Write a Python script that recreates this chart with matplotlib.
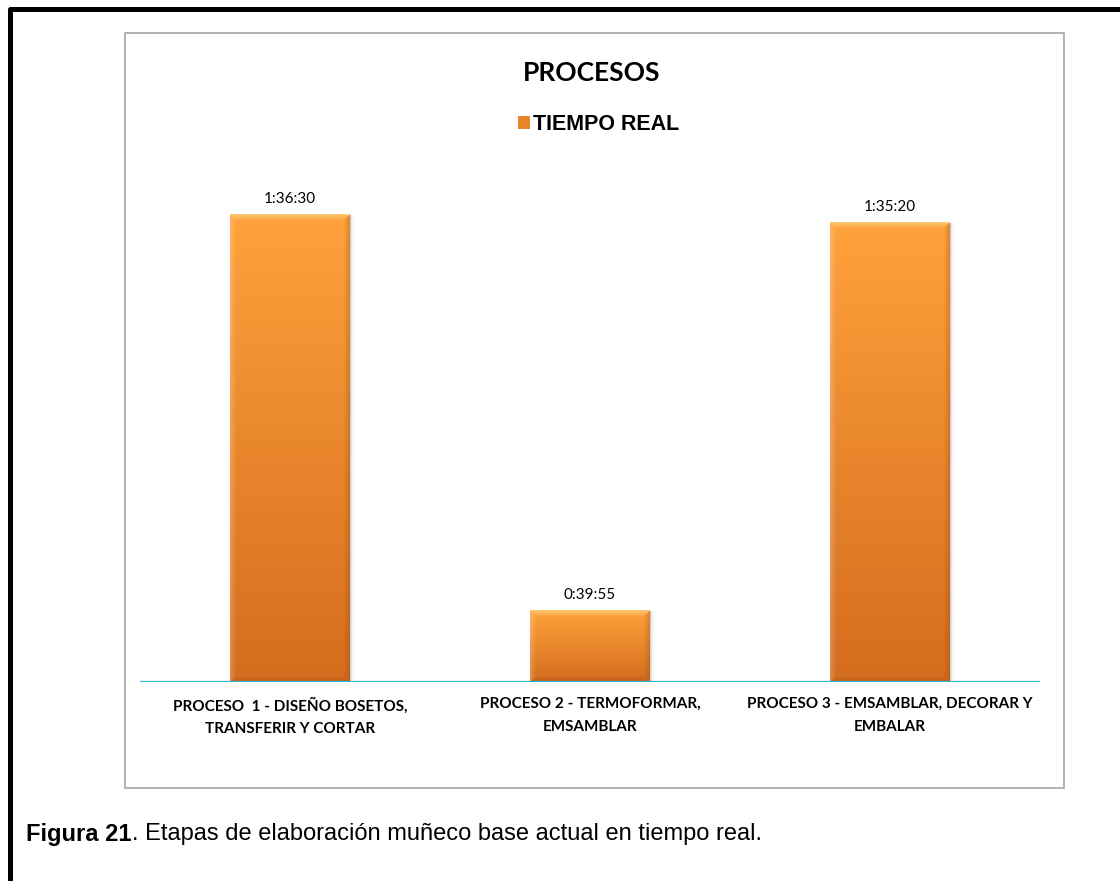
import numpy as np
import matplotlib
matplotlib.use("Agg")
import matplotlib.pyplot as plt
from matplotlib.patches import Rectangle
from matplotlib.lines import Line2D

# ---- data -------------------------------------------------------------
categorias = [
    "PROCESO  1 - DISEÑO BOSETOS,\nTRANSFERIR Y CORTAR",
    "PROCESO 2 - TERMOFORMAR,\nEMSAMBLAR",
    "PROCESO 3 - EMSAMBLAR, DECORAR Y\nEMBALAR",
]
tiempo_real_seg = [5790, 2395, 5720]   # 1:36:30, 0:39:55, 1:35:20
serie_nombre = "TIEMPO REAL"
titulo = "PROCESOS"


def hms(seg):
    h, r = divmod(int(seg), 3600)
    m, s = divmod(r, 60)
    return f"{h}:{m:02d}:{s:02d}"


# ---- figure -----------------------------------------------------------
W, H = 1120, 881
fig = plt.figure(figsize=(W / 100, H / 100), dpi=100)
fig.patch.set_facecolor("white")


def fx(x):
    return x / W


def fy(y):
    return 1 - y / H


# outer page frame (left and top edges)
fig.add_artist(Line2D([fx(10), fx(10), fx(1125)], [fy(890), fy(9), fy(9)],
                      color="black", lw=3.6, solid_joinstyle="round",
                      solid_capstyle="butt", transform=fig.transFigure))

# chart area border
fig.add_artist(Rectangle((fx(125), fy(788)), fx(1064) - fx(125), fy(33) - fy(788),
                         transform=fig.transFigure, fill=False,
                         edgecolor="#A6A6A6", lw=1.2))

# plot area
ax_l, ax_r, ax_t, ax_b = 140, 1040, 150, 682
ax = fig.add_axes([fx(ax_l), fy(ax_b), (ax_r - ax_l) / W, (ax_b - ax_t) / H])
ax.set_facecolor("none")
Y_MIN, Y_MAX = 1780, 6340
ax.set_xlim(-0.5, 2.5)
ax.set_ylim(Y_MIN, Y_MAX)
ax.set_autoscale_on(False)
for s in ax.spines.values():
    s.set_visible(False)
ax.set_yticks([])

x = np.arange(len(categorias))
ancho = 0.4
bars = ax.bar(x, np.array(tiempo_real_seg) - Y_MIN, bottom=Y_MIN, width=ancho,
              color="#E9862B", edgecolor="none", zorder=2, label=serie_nombre)

# bevelled gradient fill for each bar
top_c = np.array([255, 162, 60]) / 255
bot_c = np.array([212, 108, 30]) / 255
px_per_y = (ax_b - ax_t) / (Y_MAX - Y_MIN)
for xi, v in zip(x, tiempo_real_seg):
    h = max(int(round((v - Y_MIN) * px_per_y)), 2)
    w = 120
    t = np.linspace(0, 1, h)[:, None, None]
    img = top_c * (1 - t) + bot_c * t
    img = np.broadcast_to(img, (h, w, 3)).copy()
    ii, jj = np.mgrid[0:h, 0:w]
    dt, db, dl, dr = ii, h - 1 - ii, jj, w - 1 - jj
    d = np.minimum.reduce([dt, db, dl, dr])
    b = 6
    strength = np.clip(1 - d / b, 0, 1)[..., None]
    white = np.ones(3)
    dark = np.array([150, 70, 15]) / 255
    top_m = (dt == d) & (d < b)
    left_m = (dl == d) & (d < b) & ~top_m
    right_m = (dr == d) & (d < b) & ~top_m
    bot_m = (db == d) & (d < b) & ~top_m & ~left_m & ~right_m
    light_top = np.array([255, 208, 125]) / 255
    img = np.where(top_m[..., None], img * (1 - 0.8 * strength) + light_top * 0.8 * strength, img)
    img = np.where(left_m[..., None], img * (1 - 0.2 * strength) + white * 0.2 * strength, img)
    img = np.where(right_m[..., None], img * (1 - 0.3 * strength) + dark * 0.3 * strength, img)
    img = np.where(bot_m[..., None], img * (1 - 0.3 * strength) + dark * 0.3 * strength, img)
    ax.imshow(img, extent=[xi - ancho / 2, xi + ancho / 2, Y_MIN, v],
              aspect="auto", interpolation="bilinear", zorder=3)
    # soft shadow
    for k, a in [(1, 0.10), (2, 0.06), (3, 0.04)]:
        off = k * 0.004
        ax.add_patch(Rectangle((xi - ancho / 2 + off, Y_MIN), ancho, v - Y_MIN - off * 500,
                               facecolor="black", alpha=a, edgecolor="none", zorder=1))

ax.set_xlim(-0.5, 2.5)
ax.set_ylim(Y_MIN, Y_MAX)

# baseline
ax.axhline(Y_MIN, color="#2BB5CF", lw=1.6, zorder=4)

# value labels
ax.bar_label(bars, labels=[hms(v) for v in tiempo_real_seg], padding=6,
             fontsize=11, family="Lato", color="black")

# category labels
ax.set_xticks(x)
ax.set_xticklabels(categorias, fontsize=11, fontweight="bold", family="Lato",
                   linespacing=1.75)
ax.tick_params(axis="x", length=0, pad=11)

# title and legend
fig.text(fx(592), fy(73), titulo, ha="center", va="center", fontsize=19,
         fontweight="bold", family="Lato")
fig.legend(handles=[bars], labels=[serie_nombre], loc="center",
           bbox_to_anchor=(fx(599), fy(125)), frameon=False,
           prop={"family": "Liberation Sans", "weight": "bold", "size": 15.5},
           handlelength=0.55, handleheight=0.55, handletextpad=0.15)

# caption
r = fig.canvas.get_renderer()
cap_y = fy(834)
t1 = fig.text(fx(26), cap_y, "Figura 21", ha="left", va="center", fontsize=17,
              fontweight="bold", family="Liberation Sans")
bb = t1.get_window_extent(r)
fig.text(bb.x1 / W, cap_y, ". Etapas de elaboración muñeco base actual en tiempo real.",
         ha="left", va="center", fontsize=17, family="Liberation Sans")

fig.savefig("out.png", dpi=100)
